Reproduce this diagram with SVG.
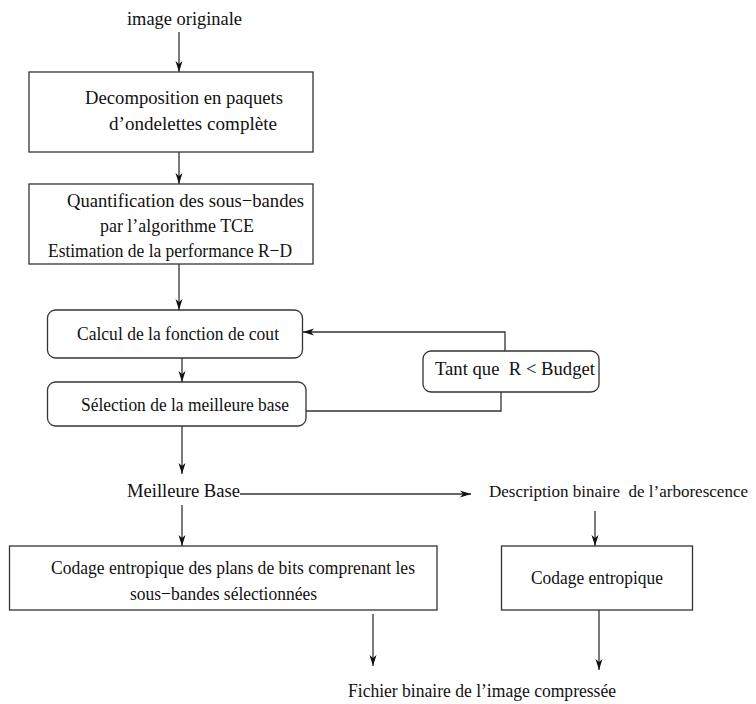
<svg xmlns="http://www.w3.org/2000/svg" width="756" height="704" viewBox="0 0 756 704" font-family="'Liberation Serif', 'Times New Roman', Times, serif">
<style>
text{font-family:'Liberation Serif','Times New Roman',Times,serif;font-size:19.5px;fill:#111}
.box{fill:#fff;stroke:#333;stroke-width:1.3}
.ln{fill:none;stroke:#333;stroke-width:1.3}
</style>
<defs>
<marker id="ah" markerUnits="userSpaceOnUse" markerWidth="14" markerHeight="10" viewBox="-12 -5 14 10" refX="0" refY="0" orient="auto">
<path d="M0,0 L-11,-3.5 L-8,0 L-11,3.5 Z" fill="#111"/>
</marker>
</defs>
<rect width="756" height="704" fill="#fff"/>
<g id="connectors">
<line class="ln" x1="179" y1="32" x2="179" y2="72" marker-end="url(#ah)"/>
<line class="ln" x1="179" y1="152" x2="179" y2="184" marker-end="url(#ah)"/>
<line class="ln" x1="179" y1="264" x2="179" y2="310" marker-end="url(#ah)"/>
<line class="ln" x1="182" y1="358" x2="182" y2="382" marker-end="url(#ah)"/>
<line class="ln" x1="182" y1="426" x2="182" y2="474" marker-end="url(#ah)"/>
<line class="ln" x1="182" y1="505" x2="182" y2="546" marker-end="url(#ah)"/>
<line class="ln" x1="240" y1="494" x2="471" y2="494" marker-end="url(#ah)"/>
<line class="ln" x1="595" y1="511" x2="595" y2="546" marker-end="url(#ah)"/>
<line class="ln" x1="373" y1="614" x2="373" y2="666" marker-end="url(#ah)"/>
<line class="ln" x1="599" y1="610" x2="599" y2="670" marker-end="url(#ah)"/>
<polyline class="ln" points="306,411 501,411 501,392"/>
<polyline class="ln" points="505,351 505,332 303,332" marker-end="url(#ah)"/>
</g>
<g id="n_image"><text x="127" y="25" textLength="115" lengthAdjust="spacingAndGlyphs">image originale</text></g>
<g id="n_decomp">
<rect class="box" x="29" y="72" width="284" height="80"/>
<text x="85" y="104" textLength="198" lengthAdjust="spacingAndGlyphs">Decomposition en paquets</text>
<text x="109" y="130" textLength="168" lengthAdjust="spacingAndGlyphs">d’ondelettes complète</text>
</g>
<g id="n_quant">
<rect class="box" x="29" y="184" width="284" height="80"/>
<text x="67" y="207" textLength="237" lengthAdjust="spacingAndGlyphs">Quantification des sous−bandes</text>
<text x="100" y="232" textLength="154" lengthAdjust="spacingAndGlyphs">par l’algorithme TCE</text>
<text x="48" y="257" textLength="244" lengthAdjust="spacingAndGlyphs">Estimation de la performance R−D</text>
</g>
<g id="n_calcul">
<rect class="box" x="47.5" y="310" width="255" height="48" rx="8"/>
<text x="77" y="340" textLength="202" lengthAdjust="spacingAndGlyphs">Calcul de la fonction de cout</text>
</g>
<g id="n_selection">
<rect class="box" x="47.5" y="382" width="258.5" height="44" rx="8"/>
<text x="81" y="411" textLength="208" lengthAdjust="spacingAndGlyphs">Sélection de la meilleure base</text>
</g>
<g id="n_tantque">
<rect class="box" x="423" y="351" width="176" height="41" rx="8"/>
<text x="435" y="375" xml:space="preserve" textLength="160" lengthAdjust="spacingAndGlyphs">Tant que  R &lt; Budget</text>
</g>
<g id="n_meilleure"><text x="127" y="497" textLength="113" lengthAdjust="spacingAndGlyphs">Meilleure Base</text></g>
<g id="n_description"><text x="489" y="497" xml:space="preserve" style="font-size:16.5px" textLength="259" lengthAdjust="spacingAndGlyphs">Description binaire  de l’arborescence</text></g>
<g id="n_codage_plans">
<rect class="box" x="9.5" y="546" width="427.5" height="64"/>
<text x="51" y="574" textLength="364" lengthAdjust="spacingAndGlyphs">Codage entropique des plans de bits comprenant les</text>
<text x="130" y="600" textLength="187" lengthAdjust="spacingAndGlyphs">sous−bandes sélectionnées</text>
</g>
<g id="n_codage">
<rect class="box" x="501.5" y="546" width="191" height="64"/>
<text x="531" y="584" textLength="132" lengthAdjust="spacingAndGlyphs">Codage entropique</text>
</g>
<g id="n_fichier"><text x="348" y="697" textLength="268" lengthAdjust="spacingAndGlyphs">Fichier binaire de l’image compressée</text></g>
</svg>
